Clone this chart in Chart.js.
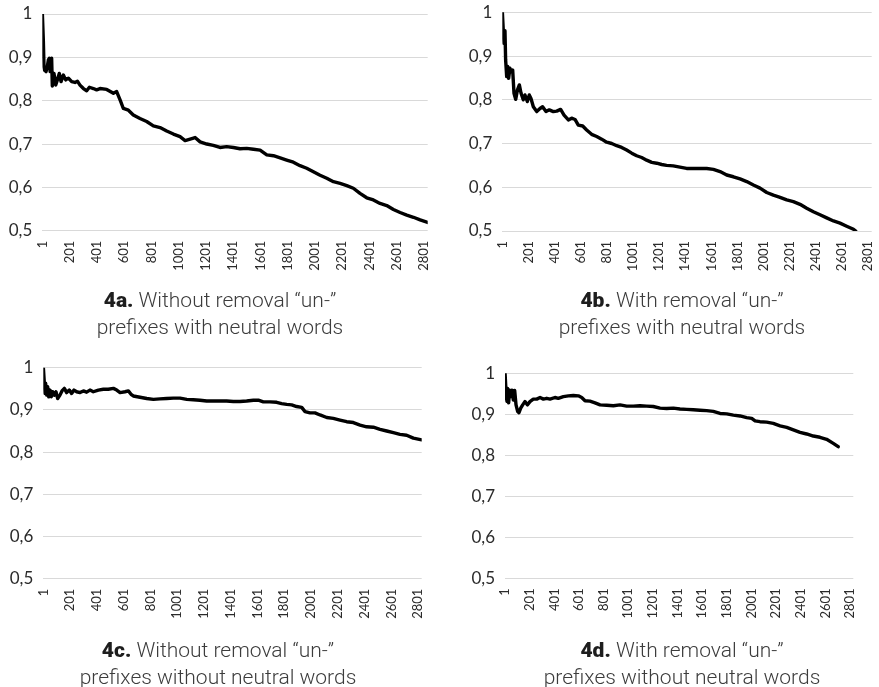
<!DOCTYPE html>
<html>
<head>
<meta charset="utf-8">
<script src="https://cdn.jsdelivr.net/npm/chart.js@4/dist/chart.umd.min.js"></script>
<style>
  html, body { margin: 0; padding: 0; background: #fff; width: 879px; height: 687px; overflow: hidden; }
  canvas.panel { position: absolute; left: 0; top: 0; }
  .cap { position: absolute; width: 440px; text-align: center; font-family: Roboto, "Noto Sans", sans-serif;
         font-weight: 300; font-size: 21px; line-height: 27px; color: #3c3c3c; white-space: nowrap; }
  .cap b { font-weight: 900; color: #1e1e1e; }
</style>
</head>
<body>
<canvas id="cA" class="panel" width="879" height="687"></canvas>
<canvas id="cB" class="panel" width="879" height="687"></canvas>
<canvas id="cC" class="panel" width="879" height="687"></canvas>
<canvas id="cD" class="panel" width="879" height="687"></canvas>

<div class="cap" style="left:0px;top:287px"><b>4a.</b> Without removal “un-”<br>prefixes with neutral words</div>
<div class="cap" style="left:462px;top:287px"><b>4b.</b> With removal “un-”<br>prefixes with neutral words</div>
<div class="cap" style="left:-2px;top:637px"><b>4c.</b> Without removal “un-”<br>prefixes without neutral words</div>
<div class="cap" style="left:462px;top:637px"><b>4d.</b> With removal “un-”<br>prefixes without neutral words</div>

<script>
// Number of word positions on every x axis
const wordCount = 2827;

// Tick labels
const xTickValues = [1, 201, 401, 601, 801, 1001, 1201, 1401, 1601, 1801, 2001, 2201, 2401, 2601, 2801];
const yTickValues = [0.5, 0.6, 0.7, 0.8, 0.9, 1];

// 4a: without removal of "un-" prefixes, with neutral words
const posA = [1, 4, 8, 13, 18, 28, 37, 45, 52, 58, 62, 69, 74, 86, 99, 111, 125, 138, 155, 172, 192, 216, 240, 258, 277, 302, 326, 346, 375, 399, 424, 473, 522, 546, 571, 595, 632, 668, 717, 766, 815, 864, 913, 962, 1011, 1048, 1079, 1121, 1158, 1207, 1255, 1304, 1353, 1402, 1451, 1500, 1549, 1598, 1647, 1696, 1745, 1793, 1842, 1891, 1940, 1989, 2038, 2087, 2136, 2185, 2234, 2282, 2331, 2380, 2429, 2478, 2527, 2576, 2625, 2674, 2723, 2772, 2827];
const valA = [1.0, 1.0, 0.94, 0.878, 0.87, 0.867, 0.878, 0.894, 0.898, 0.867, 0.875, 0.898, 0.834, 0.863, 0.836, 0.848, 0.863, 0.844, 0.859, 0.848, 0.852, 0.844, 0.842, 0.845, 0.836, 0.828, 0.823, 0.831, 0.828, 0.825, 0.828, 0.826, 0.817, 0.821, 0.802, 0.782, 0.778, 0.767, 0.759, 0.752, 0.742, 0.738, 0.730, 0.723, 0.717, 0.708, 0.711, 0.715, 0.705, 0.700, 0.697, 0.692, 0.694, 0.692, 0.689, 0.690, 0.688, 0.686, 0.675, 0.673, 0.668, 0.663, 0.658, 0.650, 0.644, 0.636, 0.628, 0.621, 0.613, 0.609, 0.604, 0.598, 0.586, 0.576, 0.571, 0.563, 0.558, 0.549, 0.542, 0.536, 0.531, 0.525, 0.519];

// 4b: with removal of "un-" prefixes, with neutral words
const posB = [1, 5, 13, 21, 26, 34, 42, 49, 59, 70, 80, 90, 103, 116, 131, 144, 161, 174, 192, 207, 220, 238, 264, 289, 309, 335, 360, 391, 417, 447, 473, 506, 531, 557, 582, 616, 646, 684, 723, 761, 799, 838, 876, 914, 952, 991, 1029, 1067, 1105, 1144, 1182, 1220, 1258, 1309, 1360, 1411, 1462, 1513, 1565, 1616, 1667, 1718, 1769, 1820, 1871, 1922, 1973, 2024, 2075, 2126, 2177, 2228, 2279, 2330, 2381, 2432, 2483, 2535, 2585, 2636, 2688, 2705];
const valB = [1.0, 1.0, 0.929, 0.958, 0.891, 0.853, 0.876, 0.849, 0.872, 0.864, 0.868, 0.815, 0.801, 0.822, 0.834, 0.815, 0.800, 0.811, 0.796, 0.811, 0.803, 0.784, 0.773, 0.780, 0.784, 0.773, 0.777, 0.773, 0.774, 0.778, 0.765, 0.754, 0.758, 0.755, 0.742, 0.740, 0.731, 0.721, 0.716, 0.710, 0.703, 0.700, 0.695, 0.691, 0.685, 0.678, 0.672, 0.668, 0.662, 0.657, 0.655, 0.652, 0.650, 0.649, 0.646, 0.643, 0.643, 0.643, 0.643, 0.641, 0.636, 0.628, 0.624, 0.619, 0.613, 0.605, 0.598, 0.588, 0.582, 0.577, 0.571, 0.567, 0.561, 0.552, 0.544, 0.537, 0.530, 0.523, 0.518, 0.511, 0.504, 0.500];

// 4c: without removal of "un-" prefixes, without neutral words
const posC = [1, 5, 13, 18, 26, 33, 41, 51, 60, 70, 83, 95, 108, 125, 140, 158, 175, 195, 212, 230, 250, 275, 300, 324, 349, 374, 412, 449, 486, 524, 549, 574, 611, 636, 656, 673, 723, 773, 823, 872, 922, 972, 1022, 1072, 1121, 1171, 1221, 1271, 1321, 1370, 1420, 1470, 1520, 1570, 1607, 1644, 1694, 1744, 1781, 1819, 1856, 1893, 1931, 1956, 1993, 2030, 2068, 2118, 2167, 2217, 2267, 2317, 2367, 2416, 2466, 2516, 2566, 2616, 2665, 2715, 2765, 2827];
const valC = [1.0, 1.0, 0.939, 0.963, 0.935, 0.955, 0.931, 0.947, 0.931, 0.943, 0.935, 0.943, 0.927, 0.935, 0.945, 0.951, 0.941, 0.947, 0.939, 0.947, 0.943, 0.941, 0.945, 0.942, 0.947, 0.943, 0.947, 0.949, 0.949, 0.951, 0.947, 0.941, 0.943, 0.945, 0.937, 0.933, 0.930, 0.927, 0.925, 0.926, 0.927, 0.928, 0.928, 0.925, 0.924, 0.923, 0.921, 0.921, 0.921, 0.921, 0.920, 0.920, 0.921, 0.923, 0.923, 0.919, 0.919, 0.918, 0.915, 0.913, 0.912, 0.908, 0.906, 0.896, 0.893, 0.893, 0.888, 0.882, 0.880, 0.876, 0.872, 0.870, 0.864, 0.860, 0.859, 0.854, 0.850, 0.846, 0.842, 0.840, 0.833, 0.829];

// 4d: with removal of "un-" prefixes, without neutral words
const posD = [1, 4, 11, 17, 22, 30, 38, 47, 57, 68, 79, 90, 103, 114, 128, 144, 163, 182, 203, 230, 258, 285, 312, 339, 366, 406, 433, 474, 515, 555, 596, 623, 650, 690, 731, 772, 826, 880, 934, 988, 1042, 1096, 1150, 1204, 1259, 1313, 1367, 1421, 1475, 1529, 1583, 1637, 1691, 1746, 1800, 1854, 1908, 1962, 2003, 2030, 2070, 2124, 2178, 2233, 2287, 2341, 2395, 2449, 2503, 2557, 2611, 2665, 2705];
const valD = [1.0, 1.0, 0.943, 0.931, 0.963, 0.928, 0.959, 0.943, 0.959, 0.935, 0.958, 0.923, 0.907, 0.904, 0.915, 0.923, 0.931, 0.923, 0.931, 0.937, 0.937, 0.941, 0.937, 0.939, 0.937, 0.941, 0.939, 0.943, 0.945, 0.946, 0.945, 0.941, 0.933, 0.932, 0.928, 0.923, 0.922, 0.921, 0.923, 0.920, 0.920, 0.921, 0.920, 0.919, 0.915, 0.914, 0.915, 0.913, 0.912, 0.911, 0.910, 0.909, 0.907, 0.902, 0.901, 0.898, 0.896, 0.892, 0.890, 0.884, 0.882, 0.881, 0.878, 0.872, 0.868, 0.862, 0.856, 0.852, 0.847, 0.844, 0.839, 0.829, 0.821];

const PAGE_W = 879, PAGE_H = 687;
const labelFont = "Lato, 'Open Sans', sans-serif";

// Each panel gets its own page-sized canvas; its plot box is fixed through padding and axis sizes.
function drawPanel(canvasId, positions, values, box) {
  const points = positions.map((p, i) => ({ x: p, y: values[i] }));
  new Chart(document.getElementById(canvasId), {
    type: 'line',
    data: {
      datasets: [{
        data: points,
        borderColor: '#000000',
        borderWidth: 3.4,
        borderJoinStyle: 'round',
        borderCapStyle: 'round',
        pointRadius: 0,
        tension: 0,
        fill: false
      }]
    },
    options: {
      responsive: false,
      animation: false,
      events: [],
      layout: { padding: { left: 0, top: box.top, right: PAGE_W - box.right, bottom: 0 } },
      plugins: { legend: { display: false }, tooltip: { enabled: false } },
      scales: {
        x: {
          type: 'linear',
          min: 0.5,
          max: wordCount + 0.5,
          afterBuildTicks: s => { s.ticks = xTickValues.map(v => ({ value: v })); },
          afterFit: s => { s.height = PAGE_H - box.bottom; s.paddingLeft = 0; s.paddingRight = 0; },
          grid: { display: false, drawTicks: false },
          border: { display: false },
          ticks: {
            autoSkip: false,
            minRotation: 90,
            maxRotation: 90,
            padding: 10,
            color: '#2b2b2b',
            font: { family: labelFont, size: 13 },
            callback: v => String(v)
          }
        },
        y: {
          min: 0.5,
          max: 1,
          afterBuildTicks: s => { s.ticks = yTickValues.map(v => ({ value: v })); },
          afterFit: s => { s.width = box.left; s.paddingTop = 0; s.paddingBottom = 0; },
          grid: { color: '#d9d9d9', lineWidth: 1, drawTicks: false },
          border: { display: false },
          ticks: {
            padding: 10,
            color: '#2b2b2b',
            font: { family: labelFont, size: 17 },
            callback: v => (v === 1 ? '1' : v.toFixed(1).replace('.', ','))
          }
        }
      }
    }
  });
}

drawPanel('cA', posA, valA, { left: 42.3, top: 14, right: 427.7, bottom: 230.7 });
drawPanel('cB', posB, valB, { left: 502.3, top: 12.3, right: 871.7, bottom: 231 });
drawPanel('cC', posC, valC, { left: 43.3, top: 367.7, right: 421.7, bottom: 578.7 });
drawPanel('cD', posD, valD, { left: 505, top: 373.3, right: 853.3, bottom: 578.3 });
</script>
</body>
</html>
